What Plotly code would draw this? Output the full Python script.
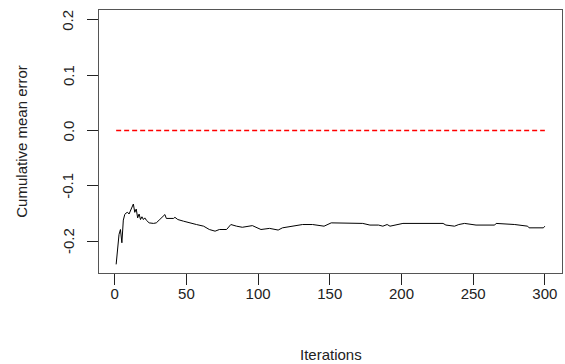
import plotly.graph_objects as go

iterations = [1, 2, 3, 4, 5, 6, 7, 8, 9, 10, 11, 13, 14, 15, 16, 17, 18, 19, 20, 21, 22, 24, 27, 29,
              31, 33, 35, 36, 41, 42, 44, 48, 52, 57, 62, 66, 70, 73, 78, 81, 85, 89, 96, 102, 108,
              114, 117, 124, 131, 138, 146, 151, 161, 163, 173, 178, 184, 187, 190, 192, 199, 201,
              229, 231, 237, 240, 244, 252, 265, 266, 279, 288, 289, 299, 300]
cum_mean_error = [-0.242, -0.21, -0.188, -0.179, -0.203, -0.162, -0.152, -0.149, -0.148, -0.151,
                  -0.145, -0.133, -0.148, -0.142, -0.158, -0.151, -0.161, -0.156, -0.161, -0.158,
                  -0.162, -0.167, -0.168, -0.167, -0.162, -0.157, -0.152, -0.159, -0.159, -0.157,
                  -0.161, -0.164, -0.167, -0.170, -0.173, -0.179, -0.182, -0.179, -0.179, -0.170,
                  -0.173, -0.175, -0.172, -0.179, -0.177, -0.180, -0.176, -0.173, -0.170, -0.170,
                  -0.173, -0.167, -0.167, -0.168, -0.168, -0.171, -0.171, -0.173, -0.170, -0.173,
                  -0.170, -0.168, -0.168, -0.171, -0.173, -0.170, -0.168, -0.171, -0.171, -0.168,
                  -0.170, -0.173, -0.176, -0.176, -0.173]
ref_x = [1, 300]
ref_y = [0.0, 0.0]
x_ticks = [0, 50, 100, 150, 200, 250, 300]
y_ticks = [-0.2, -0.1, 0.0, 0.1, 0.2]
y_ticklabels = ["-0.2", "-0.1", "0.0", "0.1", "0.2"]

font = dict(family="Liberation Sans, Arial, sans-serif", size=15, color="#222222")

fig = go.Figure()
fig.add_trace(go.Scatter(x=iterations, y=cum_mean_error, mode="lines",
                         line=dict(color="black", width=1), showlegend=False))
fig.add_trace(go.Scatter(x=ref_x, y=ref_y, mode="lines",
                         line=dict(color="red", width=1.5, dash="5px,3px"), showlegend=False))

axis_common = dict(showgrid=False, zeroline=False, showline=True, mirror=True,
                   linecolor="#555555", linewidth=1, ticks="outside", ticklen=11,
                   tickcolor="#222222", tickwidth=1, tickfont=font)

annotations = [
    dict(text="Iterations", xref="paper", yref="paper", x=0.5, y=-0.31,
         showarrow=False, font=font, xanchor="center", yanchor="middle"),
    dict(text="Cumulative mean error", xref="paper", yref="paper", x=-0.168, y=0.5,
         showarrow=False, font=font, textangle=-90, xanchor="center", yanchor="middle"),
]
for v, lab in zip(y_ticks, y_ticklabels):
    annotations.append(dict(text=lab, xref="paper", yref="y", x=-0.067, y=v,
                            showarrow=False, font=font, textangle=-90,
                            xanchor="center", yanchor="middle"))

fig.update_layout(
    width=565, height=364,
    margin=dict(l=99, r=3, t=10, b=91),
    paper_bgcolor="white", plot_bgcolor="white",
    font=font,
    xaxis=dict(range=[-10.96, 311.96], tickvals=x_ticks, ticklabelstandoff=-4, **axis_common),
    yaxis=dict(range=[-0.2576, 0.2176], tickvals=y_ticks, showticklabels=False, **axis_common),
    annotations=annotations,
)

fig.write_html("out.html")
